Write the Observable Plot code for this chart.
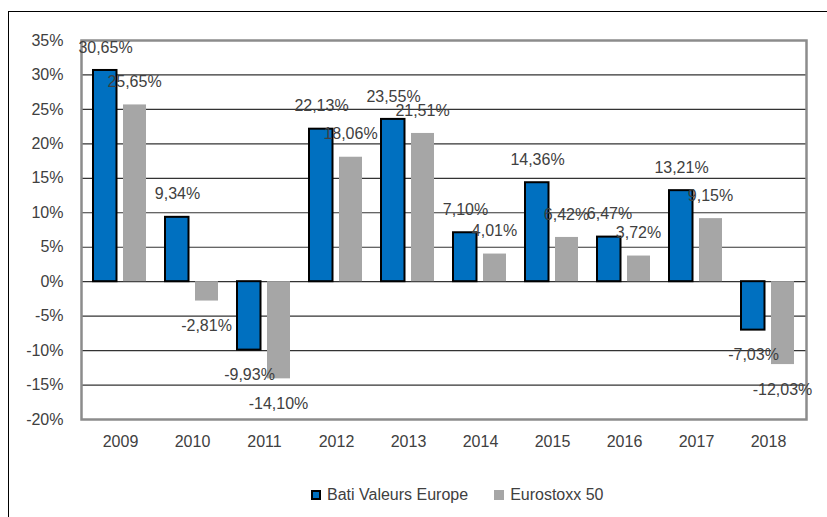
<!DOCTYPE html>
<html>
<head>
<meta charset="utf-8">
<script src="https://cdn.jsdelivr.net/npm/d3@7"></script>
<script src="https://cdn.jsdelivr.net/npm/@observablehq/plot@0.6"></script>
<style>
  html, body { margin: 0; padding: 0; background: #fff; overflow: hidden; }
  body { width: 827px; height: 517px; position: relative; font-family: "Liberation Sans", Arial, sans-serif; }
  #frame { position: absolute; left: 8px; top: 11px; width: 840px; height: 540px; border: 1px solid #000; box-sizing: border-box; }
  #chart { position: absolute; left: 0; top: 0; }
  #legend { position: absolute; left: 311px; top: 486px; display: flex; align-items: center; font-size: 16px; color: #404040; }
  .sw { width: 10px; height: 10px; display: inline-block; margin-right: 6px; box-sizing: border-box; }
  .item { display: flex; align-items: center; margin-right: 26px; }
</style>
</head>
<body>
<div id="frame"></div>
<div id="chart"></div>
<div id="legend"></div>
<script>
const years = ["2009","2010","2011","2012","2013","2014","2015","2016","2017","2018"];
const bati = [30.65, 9.34, -9.93, 22.13, 23.55, 7.10, 14.36, 6.47, 13.21, -7.03];
const eurostoxx = [25.65, -2.81, -14.10, 18.06, 21.51, 4.01, 6.42, 3.72, 9.15, -12.03];
const seriesNames = ["Bati Valeurs Europe", "Eurostoxx 50"];
const seriesColors = ["#0070c0", "#a6a6a6"];
const yTicks = [-20, -15, -10, -5, 0, 5, 10, 15, 20, 25, 30, 35];

const fmt = v => v.toFixed(2).replace(".", ",") + "%";
const rowsB = years.map((y, i) => ({year: y, value: bati[i]}));
const rowsE = years.map((y, i) => ({year: y, value: eurostoxx[i]}));

const textBase = {x: "year", y: "value", text: d => fmt(d.value), fill: "#404040", fontSize: 16, lineAnchor: "middle"};

const chart = Plot.plot({
  width: 827,
  height: 470,
  marginLeft: 81,
  marginRight: 21,
  marginTop: 40,
  marginBottom: 51,
  style: {fontSize: "16px", fontFamily: "Liberation Sans, Arial, sans-serif", color: "#404040", background: "transparent"},
  x: {domain: years, padding: 0, tickSize: 0, tickPadding: 16, label: null},
  y: {domain: [-20, 35], ticks: yTicks, tickFormat: d => d + "%", tickSize: 0, tickPadding: 18, label: null},
  marks: [
    Plot.ruleY(yTicks, {stroke: "#333", strokeWidth: 1.2}),
    Plot.barY(rowsE, {x: "year", y: "value", fill: seriesColors[1], insetLeft: 39, insetRight: 10}),
    Plot.barY(rowsB, {x: "year", y: "value", fill: seriesColors[0], stroke: "#000", strokeWidth: 2, insetLeft: 9, insetRight: 39.5}),
    Plot.frame({stroke: "#8c8c8c", strokeWidth: 2.5}),
    Plot.text(rowsB.filter(d => d.value >= 0), {...textBase, dx: -15, dy: -23}),
    Plot.text(rowsB.filter(d => d.value < 0), {...textBase, dx: -15, dy: 25}),
    Plot.text(rowsE.filter(d => d.value >= 0), {...textBase, dx: 14, dy: -23}),
    Plot.text(rowsE.filter(d => d.value < 0), {...textBase, dx: 14, dy: 25})
  ]
});
document.getElementById("chart").appendChild(chart);

const legend = document.getElementById("legend");
seriesNames.forEach((name, i) => {
  const item = document.createElement("div");
  item.className = "item";
  const sw = document.createElement("span");
  sw.className = "sw";
  sw.style.background = seriesColors[i];
  if (i === 0) sw.style.border = "2px solid #000";
  const t = document.createElement("span");
  t.textContent = name;
  item.appendChild(sw);
  item.appendChild(t);
  legend.appendChild(item);
});
</script>
</body>
</html>
